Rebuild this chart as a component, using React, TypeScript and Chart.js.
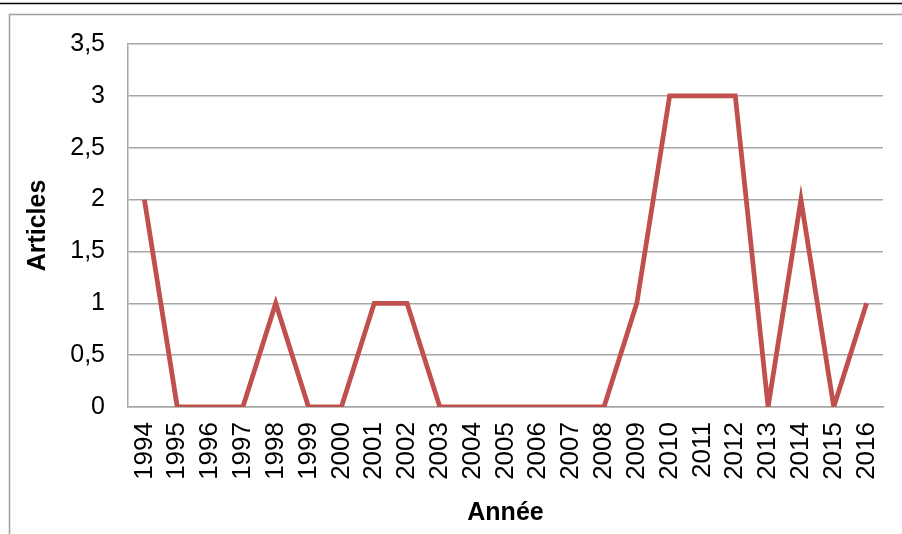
import React, { useEffect, useRef } from "react";
import { Chart, registerables } from "chart.js";

Chart.register(...registerables);

const years = ["1994","1995","1996","1997","1998","1999","2000","2001","2002","2003","2004","2005","2006","2007","2008","2009","2010","2011","2012","2013","2014","2015","2016"];
const articles = [2,0,0,0,1,0,0,1,1,0,0,0,0,0,0,1,3,3,3,0,2,0,1];
const yTicks = [0,0.5,1,1.5,2,2.5,3,3.5];

const FONT = "'Liberation Sans', Arial, sans-serif";
const GRID = "#a6a6a6";

const framePlugin = {
  id: "frame",
  beforeDraw(chart: any) {
    const ctx = chart.ctx;
    const w = chart.width, h = chart.height;
    ctx.save();
    ctx.fillStyle = "#fff";
    ctx.fillRect(0, 0, w, h);
    ctx.strokeStyle = "#000";
    ctx.lineWidth = 1.6;
    ctx.beginPath();
    ctx.moveTo(0, 3.5);
    ctx.lineTo(w, 3.5);
    ctx.stroke();
    ctx.strokeStyle = "#a0a0a0";
    ctx.lineWidth = 1.5;
    ctx.beginPath();
    ctx.moveTo(w, 14.5);
    ctx.lineTo(9.5, 14.5);
    ctx.lineTo(9.5, h);
    ctx.stroke();
    ctx.restore();
  },
};

export default function App() {
  const ref = useRef<HTMLCanvasElement>(null);
  useEffect(() => {
    if (!ref.current) return;
    const chart = new Chart(ref.current, {
      type: "line",
      data: {
        labels: years,
        datasets: [
          {
            data: articles,
            borderColor: "#C0504D",
            backgroundColor: "#C0504D",
            borderWidth: 4.8,
            pointRadius: 0,
            tension: 0,
            fill: false,
          },
        ],
      },
      options: {
        animation: false,
        responsive: false,
        devicePixelRatio: 1,
        layout: { padding: { top: 44, left: 9, right: 19, bottom: 0 } },
        plugins: { legend: { display: false }, tooltip: { enabled: false } },
        scales: {
          x: {
            offset: true,
            grid: { display: false, drawTicks: false },
            border: { display: true, color: GRID, width: 1.5 },
            ticks: {
              autoSkip: false,
              minRotation: 90,
              maxRotation: 90,
              padding: 15,
              color: "#000",
              font: { family: FONT, size: 26 },
            },
            title: {
              display: true,
              text: "Année",
              color: "#000",
              font: { family: FONT, size: 25, weight: "bold" },
              padding: { top: 0, bottom: 6 },
            },
            afterFit(scale: any) {
              scale.height = 127;
              scale.paddingLeft = 0;
              scale.paddingRight = 0;
            },
          },
          y: {
            min: 0,
            max: 3.5,
            afterBuildTicks(scale: any) {
              scale.ticks = yTicks.map((v) => ({ value: v }));
            },
            grid: { color: GRID, lineWidth: 1.5, drawTicks: false },
            border: { display: true, color: GRID, width: 1.5 },
            ticks: {
              padding: 23,
              color: "#000",
              font: { family: FONT, size: 25 },
              callback: (v: any) => String(v).replace(".", ","),
            },
            title: {
              display: true,
              text: "Articles",
              color: "#000",
              font: { family: FONT, size: 25, weight: "bold" },
              padding: { top: 14, bottom: 0 },
            },
            afterFit(scale: any) {
              scale.width = 119;
            },
          },
        },
      },
      plugins: [framePlugin],
    });
    return () => chart.destroy();
  }, []);
  return (
    <div style={{ position: "absolute", left: 0, top: 0, width: 902, height: 534 }}>
      <canvas ref={ref} width={902} height={534} style={{ display: "block" }} />
    </div>
  );
}
